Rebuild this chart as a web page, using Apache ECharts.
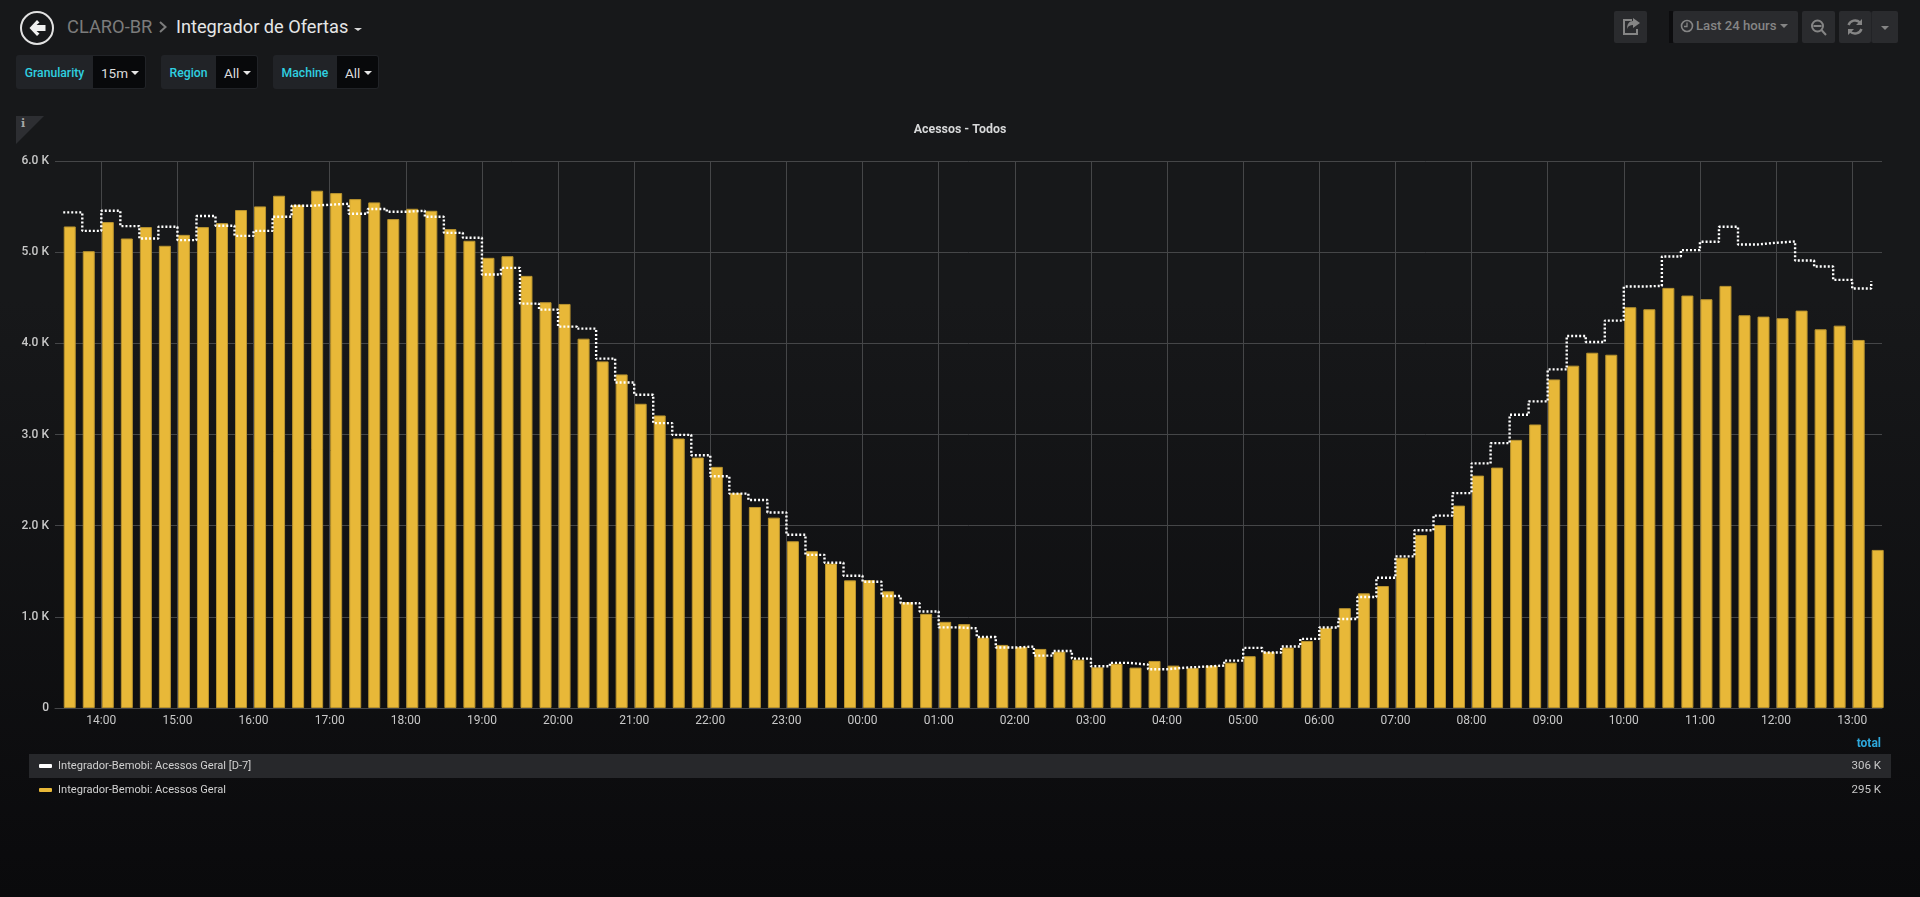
<!DOCTYPE html>
<html>
<head>
<meta charset="utf-8">
<title>Integrador de Ofertas</title>
<script src="https://cdn.jsdelivr.net/npm/echarts@6/dist/echarts.min.js"></script>
<style>
html,body{margin:0;padding:0;width:1920px;height:897px;overflow:hidden;background:linear-gradient(180deg,#17181a 0,#17181a 300px,#0a0a0c 897px);font-family:Roboto,sans-serif;}
.a{position:absolute;white-space:nowrap;}
#chart{position:absolute;left:0;top:0;width:1920px;height:897px;}
.btn{position:absolute;top:11px;height:32px;background:#2a2b2e;border-radius:2px;}
.lbl{position:absolute;top:55px;height:34px;line-height:36px;background:#212327;color:#2fd0e0;font-size:12.2px;font-weight:500;border-radius:3px 0 0 3px;box-sizing:border-box;text-align:center;}
.val{position:absolute;top:55px;height:34px;line-height:35px;background:#08090b;color:#dcdcdc;font-size:13.5px;border-radius:0 3px 3px 0;box-sizing:border-box;border:1px solid #212327;border-left:none;}
.car{display:inline-block;position:absolute;width:0;height:0;border-left:4px solid transparent;border-right:4px solid transparent;border-top:4px solid currentColor;}
</style>
</head>
<body>
<div class="a" style="left:29px;top:754px;width:1862px;height:24px;background:#27282b;"></div>

<svg class="a" style="left:19px;top:10px" width="36" height="36" viewBox="0 0 36 36">
  <circle cx="18" cy="18" r="16" fill="none" stroke="#e2e2e2" stroke-width="2"/>
  <path d="M18 10 L10.5 18 L18 26 L20.5 23.5 L17.5 21 L26.5 21 L26.5 15 L17.5 15 L20.5 12.5 Z" fill="#f0f0f0"/>
</svg>
<div class="a" style="left:67px;top:13px;font-size:18.3px;line-height:28px;color:#7c7c7c;">CLARO-BR</div>
<svg class="a" style="left:158px;top:20px" width="10" height="14" viewBox="0 0 10 14"><path d="M2 2 L7.5 7 L2 12" fill="none" stroke="#7c7c7c" stroke-width="2"/></svg>
<div class="a" style="left:176px;top:13px;font-size:18.2px;line-height:28px;color:#e6e6e6;">Integrador de Ofertas</div>
<span class="car" style="left:354px;top:28px;color:#d8d8d8;border-left-width:4px;border-right-width:4px;border-top-width:3.5px;"></span>

<div class="lbl" style="left:16px;width:77px;">Granularity</div>
<div class="val" style="left:93px;width:53px;padding-left:8px;">15m<span class="car" style="left:38px;top:15px;color:#e6e6e6;"></span></div>
<div class="lbl" style="left:161px;width:55px;">Region</div>
<div class="val" style="left:216px;width:42px;padding-left:8px;">All<span class="car" style="left:27px;top:15px;color:#e6e6e6;"></span></div>
<div class="lbl" style="left:273px;width:64px;">Machine</div>
<div class="val" style="left:337px;width:42px;padding-left:8px;">All<span class="car" style="left:27px;top:15px;color:#e6e6e6;"></span></div>

<div class="a" style="left:16px;top:116px;width:28px;height:28px;background:#2d2e32;clip-path:polygon(0 0,100% 0,0 100%);"></div>
<div class="a" style="left:21px;top:117px;font-size:11px;line-height:14px;font-weight:700;color:#a8a8a8;font-family:'DejaVu Serif',serif;">i</div>

<div class="btn" style="left:1614px;width:33px;">
  <svg width="33" height="32" viewBox="0 0 33 32"><path d="M18 9 H10 V23 H23 V18" fill="none" stroke="#858585" stroke-width="2"/><path d="M19 7 L26 12 L19 17 V14 C16 14 14 15 13 18 C13 13 15 10 19 10 Z" fill="#858585"/></svg>
</div>
<div class="a" style="left:1669px;top:11px;width:4px;height:32px;background:#0c0c0e;"></div>
<div class="btn" style="left:1673px;width:125px;">
  <svg class="a" style="left:7px;top:8px" width="14" height="14" viewBox="0 0 14 14"><circle cx="7" cy="7" r="5.5" fill="none" stroke="#858585" stroke-width="1.6"/><path d="M7 3.5 V7.5 H4" fill="none" stroke="#858585" stroke-width="1.3"/></svg>
  <div class="a" style="left:23px;top:0;line-height:30px;font-size:13.2px;font-weight:500;color:#858585;">Last 24 hours</div>
  <span class="car" style="left:107px;top:13px;color:#858585;"></span>
</div>
<div class="btn" style="left:1802px;width:33px;">
  <svg width="33" height="32" viewBox="0 0 33 32"><circle cx="15.5" cy="15" r="5.5" fill="none" stroke="#858585" stroke-width="2"/><path d="M11.5 15 H19.5 M19.5 19 L24 24" fill="none" stroke="#858585" stroke-width="2"/></svg>
</div>
<div class="btn" style="left:1839px;width:32px;">
  <svg width="32" height="32" viewBox="0 0 32 32"><path d="M9.5 14 A7 7 0 0 1 21 11.5 M22.5 18 A7 7 0 0 1 11 20.5" fill="none" stroke="#858585" stroke-width="2.4"/><path d="M23 8 V14 H17 Z M9 24 V18 H15 Z" fill="#858585"/></svg>
</div>
<div class="btn" style="left:1871px;width:27px;border-left:1px solid #222326;box-sizing:border-box;">
  <span class="car" style="left:9px;top:15px;color:#858585;"></span>
</div>

<div id="chart"></div>
<script>
var axisStart = Date.UTC(2018, 0, 1, 13, 23, 30);
var axisEnd = Date.UTC(2018, 0, 2, 13, 23, 30);
var firstSample = Date.UTC(2018, 0, 1, 13, 30, 0);
var sampleStep = 15 * 60 * 1000;
// bars sit to the right of their timestamp: half a bar width in axis time
var barShift = 307389;

var seriesNames = ['Integrador-Bemobi: Acessos Geral [D-7]', 'Integrador-Bemobi: Acessos Geral'];
var legendTotals = ['306 K', '295 K'];

var acessosGeral = [
  5282,5011,5330,5150,5275,5070,5190,5275,5319,5462,5502,5619,
  5520,5674,5648,5582,5546,5363,5476,5454,5253,5125,4938,4956,
  4740,4451,4432,4051,3802,3659,3337,3209,2956,2747,2645,2359,
  2205,2088,1829,1720,1585,1400,1403,1280,1160,1033,945,920,
  773,692,670,648,619,531,447,487,443,516,465,440,
  465,498,568,615,663,736,879,1095,1258,1338,1648,1897,
  2007,2220,2549,2637,2941,3110,3604,3755,3897,3875,4396,4374,
  4608,4524,4484,4630,4308,4293,4275,4359,4154,4194,4037,1734
];
var acessosGeralD7 = [
  5436,5234,5454,5286,5150,5278,5132,5396,5289,5179,5234,5388,
  5509,5520,5531,5421,5473,5443,5454,5388,5212,5158,4755,4828,
  4436,4370,4183,4161,3832,3571,3436,3125,2996,2773,2542,2352,
  2282,2145,1900,1680,1593,1451,1385,1229,1149,1058,884,874,
  779,663,674,575,626,542,458,495,476,425,443,454,
  465,520,659,608,674,758,883,976,1218,1428,1663,1949,
  2110,2357,2683,2905,3216,3363,3714,4081,4015,4249,4623,4630,
  4952,5022,5114,5278,5084,5103,5117,4908,4842,4696,4601,4681
];

function withTime(values) {
  return values.map(function (v, i) { return [firstSample + i * sampleStep, v]; });
}

var chart = echarts.init(document.getElementById('chart'), null, { renderer: 'canvas' });
chart.setOption({
  animation: false,
  backgroundColor: 'transparent',
  textStyle: { fontFamily: 'Roboto' },
  title: {
    text: 'Acessos - Todos', left: 'center', top: 119,
    textStyle: { color: '#d8d9da', fontSize: 12.4, fontWeight: 700, fontFamily: 'Roboto' }
  },
  grid: { left: 55, right: 38, top: 161, height: 547, containLabel: false },
  xAxis: [
    {
      type: 'time', min: axisStart, max: axisEnd,
      minInterval: 3600000, maxInterval: 3600000,
      axisLine: { show: true, lineStyle: { color: '#454648', width: 1 } },
      axisTick: { show: false },
      axisLabel: {
        color: '#c8c8c8', fontSize: 12, fontFamily: 'Roboto', margin: 7,
        showMinLabel: false, showMaxLabel: false, hideOverlap: false,
        formatter: function (v) {
          var d = new Date(v);
          var h = d.getUTCHours();
          return (h < 10 ? '0' : '') + h + ':00';
        }
      },
      splitLine: { show: true, showMinLine: false, showMaxLine: false, lineStyle: { color: '#454648', width: 1 } }
    },
    {
      type: 'value', show: false, scale: true, min: axisStart - barShift, max: axisEnd - barShift,
      splitLine: { show: false }
    }
  ],
  yAxis: {
    type: 'value', min: 0, max: 6000, interval: 1000,
    axisLine: { show: false }, axisTick: { show: false },
    axisLabel: {
      color: '#c8c8c8', fontSize: 12, fontWeight: 500, fontFamily: 'Roboto', margin: 6,
      formatter: function (v) { return v === 0 ? '0' : (v / 1000).toFixed(1) + ' K'; }
    },
    splitLine: { show: true, lineStyle: { color: '#454648', width: 1 } }
  },
  legend: {
    orient: 'vertical', left: 39, top: 754, padding: 0, itemGap: 0,
    itemWidth: 13, itemHeight: 4, selectedMode: false,
    textStyle: { color: '#d0d0d0', fontSize: 11.1, fontFamily: 'Roboto', lineHeight: 24, padding: [0, 0, 0, 1] },
    data: [
      { name: seriesNames[0], icon: 'roundRect', itemStyle: { color: '#ffffff', borderWidth: 0 } },
      { name: seriesNames[1], icon: 'roundRect', itemStyle: { color: '#e8b838', borderWidth: 0 } }
    ]
  },
  graphic: [
    { type: 'text', right: 39, top: 738, style: { text: 'total', fill: '#2ea8dc', font: '700 12px Roboto' } },
    { type: 'text', right: 39, top: 760, style: { text: legendTotals[0], fill: '#c8c8c8', font: '11.5px Roboto' } },
    { type: 'text', right: 39, top: 784, style: { text: legendTotals[1], fill: '#c8c8c8', font: '11.5px Roboto' } }
  ],
  series: [
    {
      name: seriesNames[1], type: 'bar', xAxisIndex: 1, barWidth: 12, z: 2,
      itemStyle: { color: '#e8b838', borderColor: '#b8932f', borderWidth: 1 },
      emphasis: { disabled: true },
      data: withTime(acessosGeral)
    },
    {
      name: seriesNames[0], type: 'line', xAxisIndex: 0, step: 'end', z: 3,
      showSymbol: false, symbol: 'none', clip: true,
      itemStyle: { color: '#ffffff' },
      lineStyle: { color: '#ffffff', width: 2.4, type: [2, 2] },
      emphasis: { disabled: true },
      data: withTime(acessosGeralD7)
    }
  ]
});
</script>
</body>
</html>
